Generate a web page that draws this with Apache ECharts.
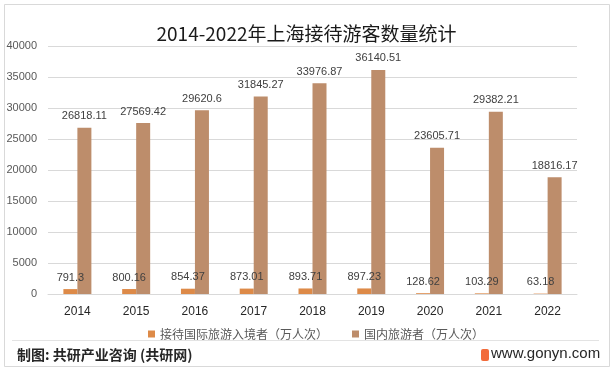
<!DOCTYPE html>
<html><head><meta charset="utf-8">
<script src="https://cdn.jsdelivr.net/npm/echarts@6/dist/echarts.min.js"></script>
<style>html,body{margin:0;padding:0;background:#fff}#c{width:613px;height:372px}</style>
</head><body><div id="c"></div>
<script>
var years = ['2014','2015','2016','2017','2018','2019','2020','2021','2022'];
var inbound = [791.3, 800.16, 854.37, 873.01, 893.71, 897.23, 128.62, 103.29, 63.18];
var domestic = [26818.11, 27569.42, 29620.6, 31845.27, 33976.87, 36140.51, 23605.71, 29382.21, 18816.17];
var seriesNames = ['接待国际旅游入境者（万人次）', '国内旅游者（万人次）'];
var titleText = '2014-2022年上海接待游客数量统计';

var font = '"Liberation Sans", "Noto Sans CJK SC", sans-serif';
var cjk = '"Noto Sans CJK SC", "Liberation Sans", sans-serif';
var chart = echarts.init(document.getElementById('c'), null, {renderer: 'canvas'});
var lbl = {show: true, position: 'top', distance: 6, color: '#404040', fontSize: 11, fontFamily: font};
chart.setOption({
  animation: false,
  backgroundColor: '#fff',
  title: {text: titleText, left: 'center', top: 19, textStyle: {fontSize: 19, fontWeight: 'normal', color: '#1a1a1a', fontFamily: cjk}},
  grid: {left: 48, right: 36, top: 46, bottom: 78},
  legend: {left: 143, top: 323, itemWidth: 7, itemHeight: 7, itemGap: 24, icon: 'rect',
    textStyle: {fontSize: 12, color: '#595959', fontFamily: cjk}, data: seriesNames},
  xAxis: {type: 'category', data: years,
    axisLine: {lineStyle: {color: '#D9D9D9'}}, axisTick: {show: false},
    axisLabel: {color: '#262626', fontSize: 12, margin: 12, fontFamily: font}},
  yAxis: {type: 'value', min: 0, max: 40000, interval: 5000,
    axisLine: {show: false}, axisTick: {show: false},
    axisLabel: {color: '#595959', fontSize: 11, margin: 11, fontFamily: font, formatter: function (v) { return String(v); }},
    splitLine: {lineStyle: {color: '#D9D9D9'}}},
  series: [
    {name: seriesNames[0], type: 'bar', data: inbound, barWidth: 14, barGap: '0%', itemStyle: {color: '#DD8A48'}, label: lbl},
    {name: seriesNames[1], type: 'bar', data: domestic, barWidth: 14, itemStyle: {color: '#BD8D6B'}, label: lbl}
  ],
  graphic: [
    {type: 'rect', shape: {x: 4.5, y: 4.5, width: 605, height: 362}, style: {fill: 'none', stroke: '#D9D9D9', lineWidth: 1}, z: -1},
    {type: 'line', shape: {x1: 12, y1: 340.5, x2: 599, y2: 340.5}, style: {stroke: '#E3E3E3', lineWidth: 1}},
    {type: 'text', left: 17, top: 348, style: {text: '制图: 共研产业咨询 (共研网)', fontSize: 14, fill: '#262626', fontFamily: cjk, fontWeight: 'bold'}},
    {type: 'rect', shape: {x: 481, y: 349, width: 8, height: 12, r: 2}, style: {fill: '#F26B3A'}},
    {type: 'text', left: 491, top: 346, style: {text: 'www.gonyn.com', fontSize: 15, fill: '#262626', fontFamily: font}}
  ]
});
</script></body></html>
